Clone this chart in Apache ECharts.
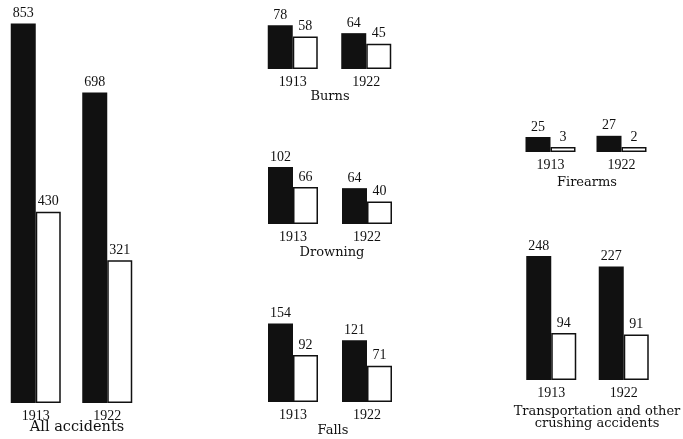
<!DOCTYPE html>
<html>
<head>
<meta charset="utf-8">
<script src="https://cdn.jsdelivr.net/npm/echarts@6/dist/echarts.min.js"></script>
<style>
html,body{margin:0;padding:0;background:#fff;}
#c{width:683px;height:439px;}
</style>
</head>
<body>
<div id="c"></div>
<script>
// Data
var years = ['1913', '1922'];
var panelNames = ['All accidents', 'Burns', 'Drowning', 'Falls', 'Firearms', 'Transportation and other\ncrushing accidents'];
var allAccidents = [853, 698];
var allAccidentsWhite = [430, 321];
var burns = [78, 64];
var burnsWhite = [58, 45];
var drowning = [102, 64];
var drowningWhite = [66, 40];
var falls = [154, 121];
var fallsWhite = [92, 71];
var firearms = [25, 27];
var firearmsWhite = [3, 2];
var transport = [248, 227];
var transportWhite = [94, 91];

var blackData = [allAccidents, burns, drowning, falls, firearms, transport];
var whiteData = [allAccidentsWhite, burnsWhite, drowningWhite, fallsWhite, firearmsWhite, transportWhite];

// Layout (positions only)
var layout = [
  {left: -2, width: 145, base: 403, scale: 0.445, tx: 77, ty: 427},
  {left: 256, width: 147, base: 69, scale: 0.56, tx: 330, ty: 97},
  {left: 256, width: 148, base: 224, scale: 0.56, tx: 332, ty: 253},
  {left: 256, width: 148, base: 402, scale: 0.51, tx: 333, ty: 431},
  {left: 515, width: 142, base: 152, scale: 0.6, tx: 587, ty: 183},
  {left: 515, width: 145, base: 380, scale: 0.5, tx: 597, ty: 418}
];

var grids = [], xAxes = [], yAxes = [], series = [], graphics = [];
var numFont = '"Liberation Serif", serif';
var titleFont = '"DejaVu Serif", serif';

layout.forEach(function (L, i) {
  grids.push({left: L.left, width: L.width, top: 0, height: L.base});
  xAxes.push({
    type: 'category', gridIndex: i, data: years,
    axisLine: {show: false}, axisTick: {show: false},
    axisLabel: {margin: 6, fontFamily: numFont, fontSize: 14, color: '#111'}
  });
  yAxes.push({
    type: 'value', gridIndex: i, min: 0, max: L.base / L.scale,
    show: false, splitLine: {show: false}
  });
  series.push({
    type: 'bar', xAxisIndex: i, yAxisIndex: i, data: blackData[i],
    barWidth: 25, barGap: '0%',
    itemStyle: {color: '#111'},
    label: {show: true, position: 'top', distance: 3, fontFamily: numFont, fontSize: 14, color: '#111'},
    silent: true, animation: false
  });
  series.push({
    type: 'bar', xAxisIndex: i, yAxisIndex: i, data: whiteData[i],
    barWidth: 25, barGap: '0%', barMinHeight: 5,
    itemStyle: {color: '#fff', borderColor: '#111', borderWidth: 1.5},
    label: {show: true, position: 'top', distance: 3, fontFamily: numFont, fontSize: 14, color: '#111'},
    silent: true, animation: false
  });
  graphics.push({
    type: 'text', x: L.tx, y: L.ty,
    style: {
      text: panelNames[i], textAlign: 'center', textVerticalAlign: 'middle',
      font: (i === 0 ? '14.5px ' : '13px ') + titleFont, fill: '#111', lineHeight: 12
    }
  });
});

var chart = echarts.init(document.getElementById('c'), null, {renderer: 'canvas'});
chart.setOption({
  backgroundColor: '#fff',
  animation: false,
  grid: grids,
  xAxis: xAxes,
  yAxis: yAxes,
  series: series,
  graphic: graphics
});
</script>
</body>
</html>
